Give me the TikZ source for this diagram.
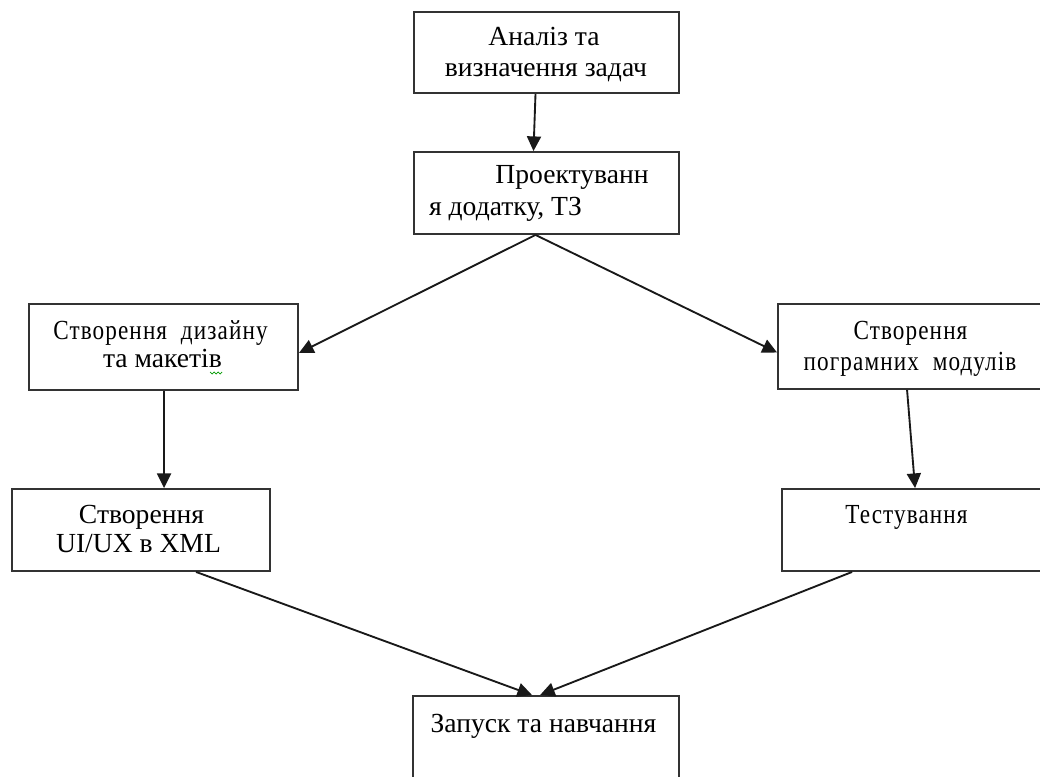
\documentclass[tikz,border=0pt]{standalone}
\usepackage{fontspec}
\setmainfont{Liberation Serif}
\newfontfamily\spacedfont[FakeStretch=0.84,LetterSpace=4]{Liberation Serif}
\usetikzlibrary{fit,calc,arrows.meta}
\begin{document}
\begin{tikzpicture}[x=0.75pt,y=-0.75pt,
  box/.style={draw=black!80,line width=1.4pt,inner sep=0pt,rectangle},
  txt/.style={inner sep=0pt,anchor=base,font=\fontsize{20.7}{23}\selectfont},
  stxt/.style={inner sep=0pt,anchor=base,font=\fontsize{20.7}{23}\spacedfont},
  arr/.style={line width=1.4pt,black!90,-{Triangle[length=11pt,width=10.5pt]}}]
\useasboundingbox (0,0) rectangle (1040,776);
\clip (0,0) rectangle (1040,776);
% boxes
\node[box,fit={(414,12) (679,93)}] (b1) {};
\node[box,fit={(414,152) (679,234)}] (b2) {};
\node[box,fit={(29,304) (298,390)}] (b3) {};
\node[box,fit={(778,304) (1060,389)}] (b4) {};
\node[box,fit={(12,489) (270,571)}] (b5) {};
\node[box,fit={(782,489) (1060,571)}] (b6) {};
\node[box,fit={(413,696) (679,800)}] (b7) {};
% texts
\node[txt] (t1a) at (544,45) {Аналіз та};
\node[txt] (t1b) at (546,76) {визначення задач};
\node[txt] (t2a) at (572,183) {Проектуванн};
\node[txt] (t2b) at (505.5,215) {я додатку, ТЗ};
\node[stxt] (t3a) at (160.5,339) {Створення\ \ дизайну};
\node[txt] (t3b) at (162.5,367) {та макетів};
\node[stxt] (t4a) at (910.5,339) {Створення};
\node[stxt] (t4b) at (910,370) {пограмних\ \ модулів};
\node[txt] (t5a) at (141.5,523) {Створення};
\node[txt] (t5b) at (138.5,552) {UI/UX в XML};
\node[stxt] (t6) at (906.5,523) {Тестування};
\node[txt] (t7) at (543.5,732) {Запуск та навчання};
% spell-check squiggle
\draw[green!60!black,line width=0.6pt] ($(t3b.base east)+(-12,5)$) -- ++(2,2) -- ++(2,-2) -- ++(2,2) -- ++(2,-2) -- ++(2,2) -- ++(2,-2);
% connectors
\draw[arr] ($(b1.south)+(-11,0)$) -- ($(b2.north)+(-13,0)$);
\draw[arr] ($(b2.south)+(-11,0)$) -- ($(b3.east)+(0,6)$);
\draw[arr] ($(b2.south)+(-11,0)$) -- ($(b4.west)+(0,6)$);
\draw[arr] ($(b3.south west)+(136,0)$) -- ($(b5.north west)+(153,0)$);
\draw[arr] ($(b4.south west)+(130,0)$) -- ($(b6.north west)+(134,0)$);
\draw[arr] ($(b5.south west)+(185,0)$) -- ($(b7.north west)+(120,0)$);
\draw[arr] ($(b6.south west)+(71,0)$) -- ($(b7.north west)+(128,0)$);
\end{tikzpicture}
\end{document}
